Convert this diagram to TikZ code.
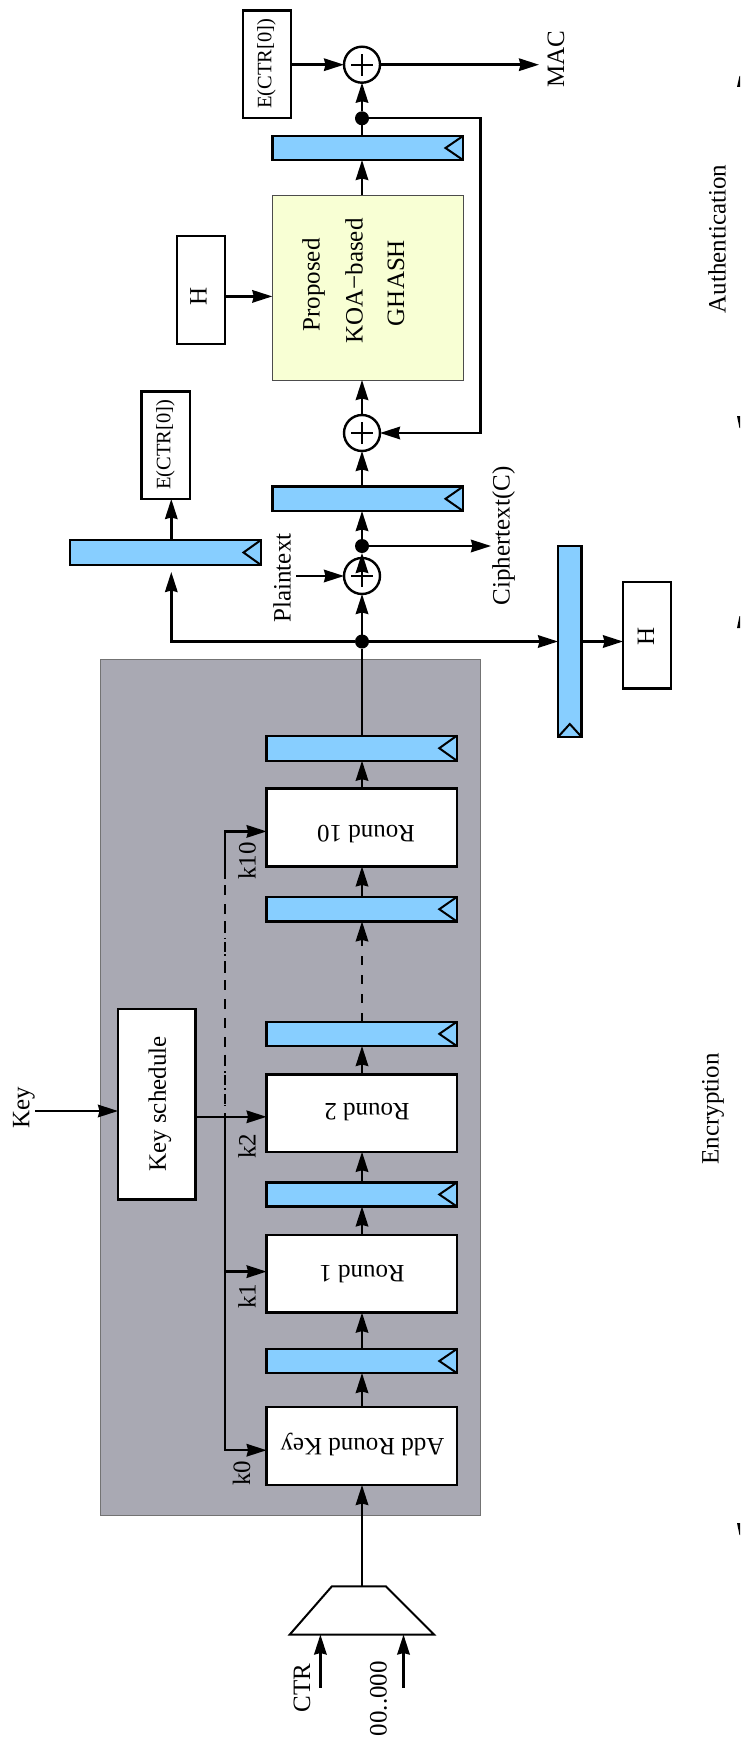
\documentclass[tikz,border=0pt]{standalone}
\usepackage{fontspec}
\setmainfont{Liberation Serif}
\usetikzlibrary{arrows.meta,calc}
\definecolor{regblue}{HTML}{87CEFF}
\definecolor{ghashgreen}{HTML}{F8FFD4}
\definecolor{panelgray}{HTML}{A9A9B3}
\newcommand{\bx}[7][]{%
  \pgfmathsetmacro{\bxcx}{(#3+#5)/2}\pgfmathsetmacro{\bxcy}{(#4+#6)/2}%
  \pgfmathsetmacro{\bxw}{#5-#3}\pgfmathsetmacro{\bxh}{#6-#4}%
  \node[#1,minimum width=\bxw pt,minimum height=\bxh pt] (#2) at (\bxcx,\bxcy) {#7};}
\tikzset{
  arr/.style={-{Stealth[length=20pt,width=12.5pt,inset=1.5pt]}},
  basebox/.style={rectangle,draw,outer sep=0pt,inner sep=0pt},
  plainbox/.style={basebox,fill=white},
  regbox/.style={basebox,fill=regblue},
  ghbox/.style={rectangle,draw=black!70,line width=0.8pt,fill=ghashgreen,outer sep=0pt,inner sep=0pt},
  panel/.style={rectangle,draw=black!55,line width=0.8pt,fill=panelgray,outer sep=0pt,inner sep=0pt},
  xornode/.style={circle,draw,fill=white,minimum size=36pt,inner sep=0pt,outer sep=0pt,
    path picture={\draw[line width=2pt] ([xshift=-11pt]path picture bounding box.center) -- ([xshift=11pt]path picture bounding box.center);
                  \draw[line width=2pt] ([yshift=-11pt]path picture bounding box.center) -- ([yshift=11pt]path picture bounding box.center);}},
  dotnode/.style={circle,fill=black,minimum size=14pt,inner sep=0pt,outer sep=0pt},
  lab/.style={font=\fontsize{25}{28}\selectfont,inner sep=0pt,outer sep=0pt,anchor=center},
  vlab/.style={lab,rotate=90},
  flab/.style={lab,rotate=180},
  elab/.style={font=\fontsize{20.5}{24}\selectfont,rotate=90},
  tip/.style={fill=black,draw=none},
}
\newcommand{\clk}[1]{\draw[line width=2pt] (#1.north east) -- ([xshift=-17.5pt]#1.east) -- (#1.south east);}
\begin{document}
\begin{tikzpicture}[x=1pt,y=-1pt,line width=2.4pt]
\useasboundingbox (0,0) rectangle (740,1739);
\coordinate (spine) at (362,0);
% panel
\bx[panel]{pan}{100}{659.4}{480.4}{1515.5}{}
% registers
\bx[regbox]{rT}{272.3}{136}{463}{160}{}
\bx[regbox]{rC}{272.3}{486.6}{463}{511}{}
\bx[regbox]{rL}{70}{540}{261}{565}{}
\bx[regbox]{rA}{266.6}{735.7}{456.8}{760.7}{}
\bx[regbox]{rB}{266.6}{897}{456.8}{921.4}{}
\bx[regbox]{rD}{266.6}{1021.8}{456.8}{1046}{}
\bx[regbox]{rE}{266.6}{1182.5}{456.8}{1206.4}{}
\bx[regbox]{rF}{266.6}{1349}{456.8}{1373}{}
\foreach \r in {rT,rC,rL,rA,rB,rD,rE,rF}{\clk{\r}}
\bx[regbox]{rV}{558}{546}{581.6}{737}{}
\draw[line width=2pt] (rV.south west) -- ([yshift=13pt]rV.south) -- (rV.south east);
% boxes
\bx[plainbox]{ectrT}{243}{10.7}{290.7}{118}{}
\bx[plainbox]{ectrL}{141.6}{391.5}{189.7}{499}{}
\bx[plainbox]{hT}{177}{236}{225}{344}{}
\bx[plainbox]{hB}{623}{581.7}{671}{688.6}{}
\bx[ghbox]{gh}{272.3}{195.5}{463}{380}{}
\bx[plainbox]{r10}{266.6}{788.6}{456.8}{866.4}{}
\bx[plainbox]{r2}{266.6}{1074.3}{456.8}{1151.8}{}
\bx[plainbox]{r1}{266.6}{1235}{456.8}{1312.6}{}
\bx[plainbox]{ark}{266.6}{1407}{456.8}{1485}{}
\bx[plainbox]{ks}{118}{1009}{195.4}{1199.6}{}
% box texts
\node[elab] (tE1) at (266.5,64) {E(CTR[0])};
\node[elab] (tE2) at (165.5,445) {E(CTR[0])};
\node[vlab] (tH1) at (198.5,296) {H};
\node[vlab] (tH2) at (646,636) {H};
\node[vlab] (tP) at (313.5,285) {Proposed};
\node[vlab] (tK) at (354,281) {KOA−based};
\node[vlab] (tG) at (396,283) {GHASH};
\node[flab] (t10) at (366,834) {Round 10};
\node[flab] (t2) at (367,1112.5) {Round 2};
\node[flab] (t1) at (362,1274) {Round 1};
\node[flab] (tA) at (362.5,1444.5) {Add Round Key};
\node[vlab] (tS) at (160,1104) {Key schedule};
% outer labels
\node[vlab] (lMAC) at (556,59) {MAC};
\node[vlab] (lPl) at (282,578) {Plaintext};
\node[vlab] (lCi) at (503.6,536) {Ciphertext(C)};
\node[vlab] (lKey) at (24,1108) {Key};
\node[vlab] (lk10) at (247,861) {k10};
\node[vlab] (lk2) at (247,1146) {k2};
\node[vlab] (lk1) at (247,1296) {k1};
\node[vlab] (lk0) at (241.5,1473) {k0};
\node[vlab] (lCTR) at (302,1688) {CTR};
\node[vlab] (lZ) at (378.5,1698.5) {00..000};
\node[vlab] (lAu) at (717,239) {Authentication};
\node[vlab] (lEn) at (713,1109) {Encryption};
% xors and dots
\node[xornode] (x1) at (362,64.7) {};
\node[xornode] (x2) at (362,433) {};
\node[xornode] (x3) at (362,576) {};
\node[dotnode] (d1) at (362,118.3) {};
\node[dotnode] (d2) at (362,546) {};
\node[dotnode] (d3) at (362,641.5) {};
% mux
\coordinate (muxT) at (362,1586.4);
\draw[line width=2pt] (331.8,1586.4) -- (386,1586.4) -- (434,1634.5) -- (289.8,1634.5) -- cycle;
\coordinate (muxA) at (320.4,1634.5);
\coordinate (muxB) at (403.5,1634.5);
\coordinate (ctrS) at (320.4,1687.7);
\coordinate (zS) at (403.5,1687.7);
% free ends
\coordinate (macE) at (539,64.7);
\coordinate (fbR) at (480.4,118.3);
\coordinate (plE) at (296,576);
\coordinate (ciE) at (491,546);
\coordinate (keyS) at (35.4,1111);
\coordinate (busT) at (225,831.4);
\coordinate (busD) at (225,878.6);
\coordinate (busK) at (225,1116.8);
\coordinate (bus1) at (225,1271.6);
\coordinate (bus0) at (225,1450.2);
\coordinate (brL) at (171.3,641.5);
% connectors
\draw[arr] (ectrT.east |- x1) -- (x1);
\draw[arr] (x1) -- (macE);
\draw[arr] (d1) -- (x1);
\draw (rT.north -| spine) -- (d1);
\draw[arr] (gh.north -| spine) -- (rT.south -| spine);
\draw[arr] (x2) -- (gh.south -| spine);
\draw[arr] (d1) -- (fbR) -- (fbR |- x2) -- (x2);
\draw[arr] (hT.east |- 0,296.4) -- (gh.west |- 0,296.4);
\draw[arr] (rC.north -| spine) -- (x2);
\draw[arr] (d2) -- (rC.south -| spine);
\draw[arr] (x3) -- (d2);
\draw[arr] (d2) -- (ciE);
\draw[arr] (plE) -- (x3);
\draw[arr] (d3) -- (x3);
\draw (rA.north -| spine) -- (d3);
\draw[arr] (brL |- rL.north) -- (brL |- ectrL.south);
\draw[arr] (d3) -- (brL) -- (brL |- 0,572);
\draw[arr] (d3) -- (rV.west |- d3);
\draw[arr] (rV.east |- d3) -- (hB.west |- d3);
\draw[arr] (r10.north -| spine) -- (rA.south -| spine);
\draw[arr] (rB.north -| spine) -- (r10.south -| spine);
\draw[arr,dash pattern=on 9pt off 10pt] (rD.north -| spine) -- (rB.south -| spine);
\draw[arr] (r2.north -| spine) -- (rD.south -| spine);
\draw[arr] (rE.north -| spine) -- (r2.south -| spine);
\draw[arr] (r1.north -| spine) -- (rE.south -| spine);
\draw[arr] (rF.north -| spine) -- (r1.south -| spine);
\draw[arr] (ark.north -| spine) -- (rF.south -| spine);
\draw[arr] (muxT) -- (ark.south -| spine);
\draw[arr] (ctrS) -- (muxA);
\draw[arr] (zS) -- (muxB);
\draw[arr] (keyS) -- (ks.west |- keyS);
\draw[arr] (ks.east |- busK) -- (r2.west |- busK);
\draw[arr] (busK) -- (bus0) -- (ark.west |- bus0);
\draw[arr] (bus1) -- (r1.west |- bus1);
\draw[arr] (busD) -- (busT) -- (r10.west |- busT);
\draw[dash pattern=on 10pt off 9pt,dash phase=12.6pt] (busD) -- (busK);
\draw[line width=1.8pt,dash pattern=on 1.7pt off 15pt,dash phase=7.7pt] (busD) -- (busK);
% clipped brace tips at the right edge
\fill[tip] (739.5,76) -- (737,87) -- (740,87) -- (740,76) -- cycle;
\fill[tip] (737,416) -- (740,416) -- (740,428) -- (739.5,428) -- cycle;
\fill[tip] (739.5,616) -- (737,628) -- (740,628) -- (740,616) -- cycle;
\fill[tip] (737,1523) -- (740,1523) -- (740,1535) -- (739.5,1535) -- cycle;
\end{tikzpicture}
\end{document}
